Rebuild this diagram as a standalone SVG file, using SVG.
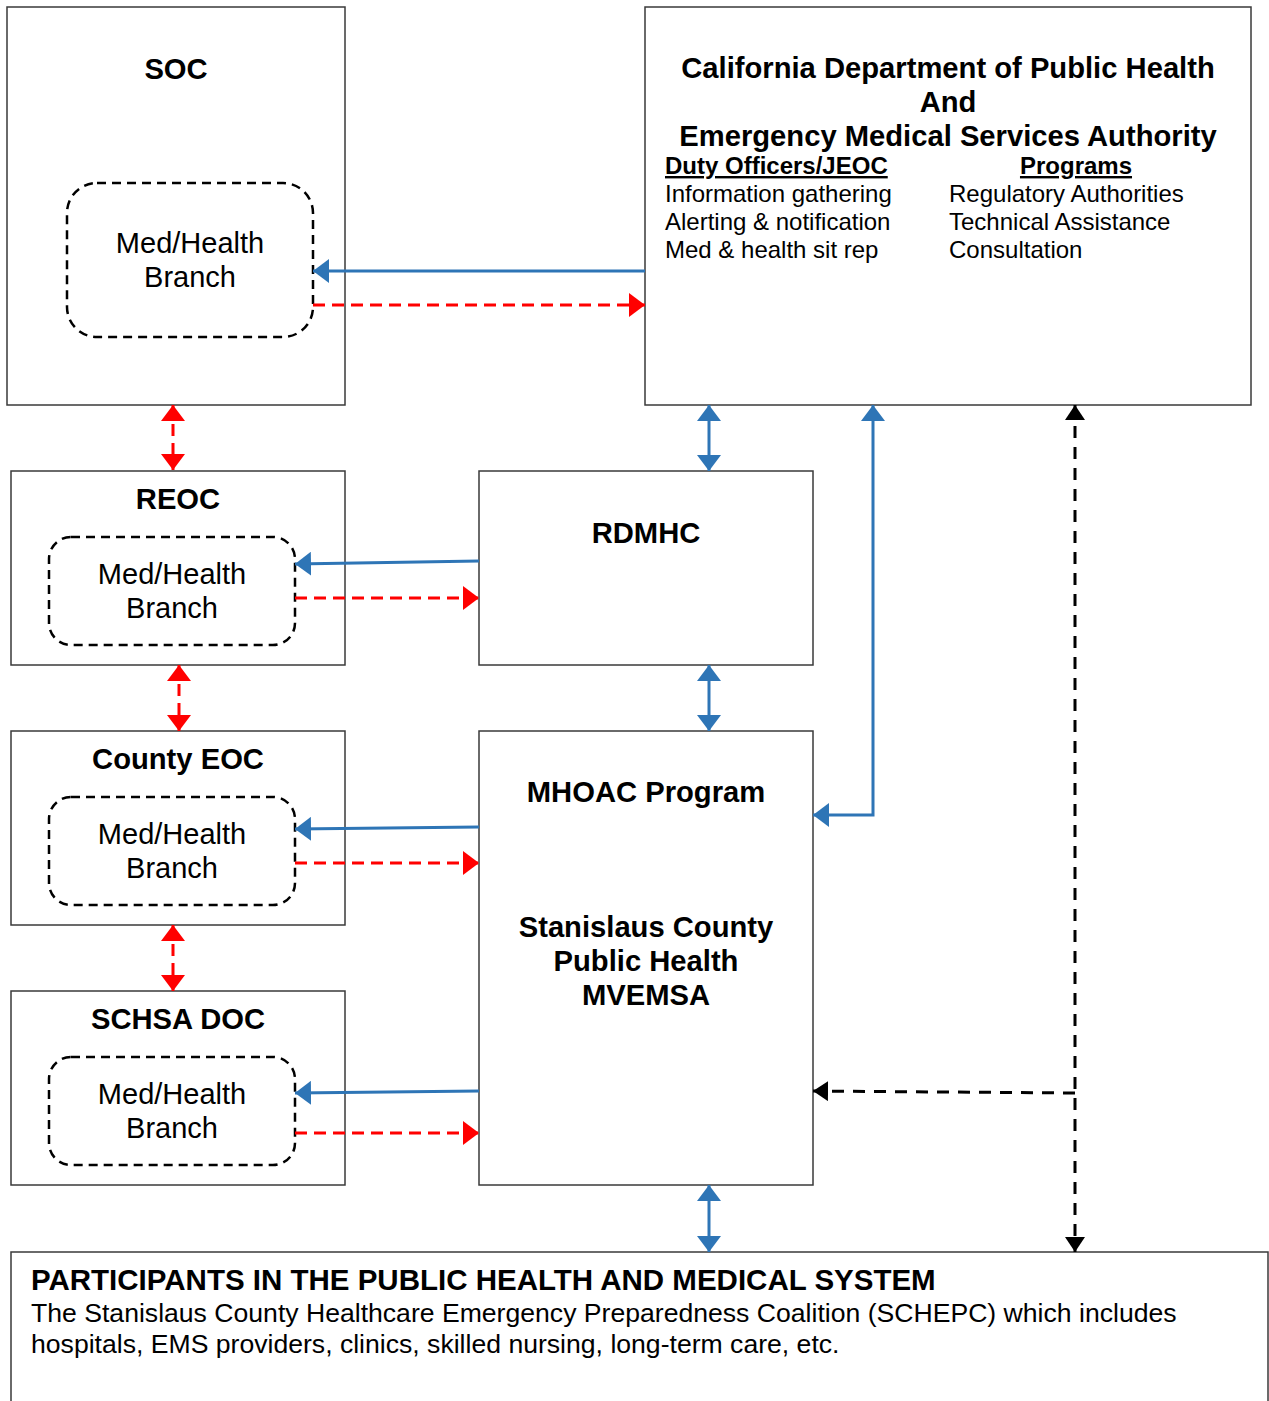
<svg xmlns="http://www.w3.org/2000/svg" width="1269" height="1401" viewBox="0 0 1269 1401">
<style>
.box{fill:#fff;stroke:#3a3a3a;stroke-width:1.5}
.inner{fill:none;stroke:#000;stroke-width:2.5;stroke-dasharray:9 6}
.t{font-family:"Liberation Sans",Arial,sans-serif;fill:#000}
.b{font-weight:bold;font-size:29.2px}
.m{font-size:29px}
.s{font-size:24px}
.blue{fill:none;stroke:#2E75B6;stroke-width:3}
.red{fill:none;stroke:#FF0000;stroke-width:3;stroke-dasharray:12 7}
.blk{fill:none;stroke:#000;stroke-width:3;stroke-dasharray:12 9}
</style>
<defs>
<marker id="ab" viewBox="0 0 16 24" refX="16" refY="12" markerUnits="userSpaceOnUse" markerWidth="16" markerHeight="24" orient="auto-start-reverse"><path d="M0,0 L16,12 L0,24z" fill="#2E75B6"/></marker>
<marker id="ar" viewBox="0 0 16 24" refX="16" refY="12" markerUnits="userSpaceOnUse" markerWidth="16" markerHeight="24" orient="auto-start-reverse"><path d="M0,0 L16,12 L0,24z" fill="#FF0000"/></marker>
<marker id="ak" viewBox="0 0 15 20" refX="15" refY="10" markerUnits="userSpaceOnUse" markerWidth="15" markerHeight="20" orient="auto-start-reverse"><path d="M0,0 L15,10 L0,20z" fill="#000"/></marker>
</defs>

<g id="soc">
<rect class="box" x="7" y="7" width="338" height="398"/>
<text class="t b" x="176" y="79" text-anchor="middle">SOC</text>
<rect class="inner" x="67" y="183" width="246" height="154" rx="30"/>
<text class="t m" x="190" y="253" text-anchor="middle">Med/Health</text>
<text class="t m" x="190" y="287" text-anchor="middle">Branch</text>
</g>

<g id="cdph">
<rect class="box" x="645" y="7" width="606" height="398"/>
<text class="t b" x="948" y="78" text-anchor="middle">California Department of Public Health</text>
<text class="t b" x="948" y="112" text-anchor="middle">And</text>
<text class="t b" x="948" y="146" text-anchor="middle">Emergency Medical Services Authority</text>
<text class="t s" x="665" y="174" font-weight="bold" text-decoration="underline">Duty Officers/JEOC</text>
<text class="t s" x="1076" y="174" font-weight="bold" text-decoration="underline" text-anchor="middle">Programs</text>
<text class="t s" x="665" y="202">Information gathering</text>
<text class="t s" x="665" y="230">Alerting &amp; notification</text>
<text class="t s" x="665" y="258">Med &amp; health sit rep</text>
<text class="t s" x="949" y="202">Regulatory Authorities</text>
<text class="t s" x="949" y="230">Technical Assistance</text>
<text class="t s" x="949" y="258">Consultation</text>
</g>

<g id="reoc">
<rect class="box" x="11" y="471" width="334" height="194"/>
<text class="t b" x="178" y="509" text-anchor="middle">REOC</text>
<rect class="inner" x="49" y="537" width="246" height="108" rx="22"/>
<text class="t m" x="172" y="584" text-anchor="middle">Med/Health</text>
<text class="t m" x="172" y="618" text-anchor="middle">Branch</text>
</g>

<g id="rdmhc">
<rect class="box" x="479" y="471" width="334" height="194"/>
<text class="t b" x="646" y="543" text-anchor="middle">RDMHC</text>
</g>

<g id="county-eoc">
<rect class="box" x="11" y="731" width="334" height="194"/>
<text class="t b" x="178" y="769" text-anchor="middle">County EOC</text>
<rect class="inner" x="49" y="797" width="246" height="108" rx="22"/>
<text class="t m" x="172" y="844" text-anchor="middle">Med/Health</text>
<text class="t m" x="172" y="878" text-anchor="middle">Branch</text>
</g>

<g id="mhoac">
<rect class="box" x="479" y="731" width="334" height="454"/>
<text class="t b" x="646" y="802" text-anchor="middle">MHOAC Program</text>
<text class="t b" x="646" y="937" text-anchor="middle">Stanislaus County</text>
<text class="t b" x="646" y="971" text-anchor="middle">Public Health</text>
<text class="t b" x="646" y="1005" text-anchor="middle">MVEMSA</text>
</g>

<g id="schsa-doc">
<rect class="box" x="11" y="991" width="334" height="194"/>
<text class="t b" x="178" y="1029" text-anchor="middle">SCHSA DOC</text>
<rect class="inner" x="49" y="1057" width="246" height="108" rx="22"/>
<text class="t m" x="172" y="1104" text-anchor="middle">Med/Health</text>
<text class="t m" x="172" y="1138" text-anchor="middle">Branch</text>
</g>

<g id="participants">
<rect class="box" x="11" y="1252" width="1257" height="160"/>
<text class="t" x="31" y="1290" font-size="29.5" font-weight="bold">PARTICIPANTS IN THE PUBLIC HEALTH AND MEDICAL SYSTEM</text>
<text class="t" x="31" y="1322" font-size="26.6">The Stanislaus County Healthcare Emergency Preparedness Coalition (SCHEPC) which includes</text>
<text class="t" x="31" y="1353" font-size="26.6">hospitals, EMS providers, clinics, skilled nursing, long-term care, etc.</text>
</g>

<g id="connectors">
<path class="blue" d="M645,271 L313,271" marker-end="url(#ab)"/>
<path class="red" d="M313,305 L645,305" marker-end="url(#ar)"/>
<path class="red" d="M173,405 L173,470" marker-start="url(#ar)" marker-end="url(#ar)"/>
<path class="blue" d="M709,405 L709,471" marker-start="url(#ab)" marker-end="url(#ab)"/>
<path class="blue" d="M479,561 L295,564" marker-end="url(#ab)"/>
<path class="red" d="M295,598 L479,598" marker-end="url(#ar)"/>
<path class="red" d="M179,665 L179,731" marker-start="url(#ar)" marker-end="url(#ar)"/>
<path class="blue" d="M709,665 L709,731" marker-start="url(#ab)" marker-end="url(#ab)"/>
<path class="blue" d="M873,405 L873,815 L813,815" marker-start="url(#ab)" marker-end="url(#ab)"/>
<path class="blue" d="M479,827 L295,829" marker-end="url(#ab)"/>
<path class="red" d="M295,863 L479,863" marker-end="url(#ar)"/>
<path class="red" d="M173,925 L173,991" marker-start="url(#ar)" marker-end="url(#ar)"/>
<path class="blue" d="M479,1091 L295,1093" marker-end="url(#ab)"/>
<path class="red" d="M295,1133 L479,1133" marker-end="url(#ar)"/>
<path class="blue" d="M709,1185 L709,1252" marker-start="url(#ab)" marker-end="url(#ab)"/>
<path class="blk" d="M1075,405 L1075,1252" marker-start="url(#ak)" marker-end="url(#ak)"/>
<path class="blk" d="M1075,1093 L813,1091" marker-end="url(#ak)"/>
</g>
</svg>
